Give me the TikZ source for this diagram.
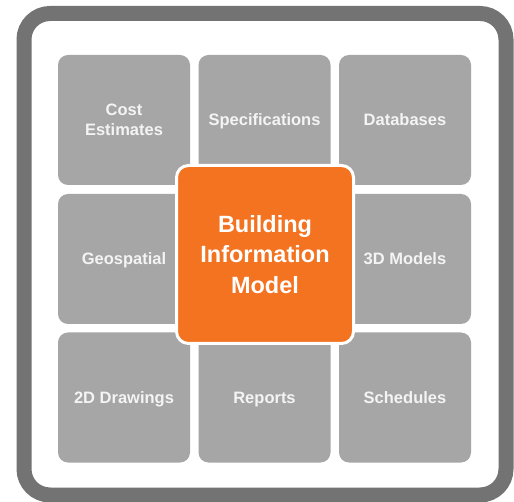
\documentclass[tikz,border=0pt]{standalone}
\usepackage{fontspec}
\setmainfont{Liberation Sans}
\definecolor{framegray}{HTML}{737373}
\definecolor{tilegray}{HTML}{A6A6A6}
\definecolor{tiletext}{HTML}{F4F4F4}
\definecolor{bimorange}{HTML}{F37321}
\begin{document}
\begin{tikzpicture}[x=1pt,y=-1pt,
  tile/.style={fill=tilegray, rounded corners=10pt, minimum width=132pt, minimum height=130pt,
    inner sep=0pt, text=tiletext, font=\bfseries\fontsize{16.5}{20}\selectfont, align=center},
  oneline/.style={text height=15.8pt, text depth=4pt},
  core/.style={fill=bimorange, draw=white, line width=3pt, rounded corners=12pt,
    minimum width=177pt, minimum height=178pt, inner sep=0pt, text=white,
    font=\bfseries\fontsize{23.5}{30.5}\selectfont, align=center}]
\useasboundingbox (0,0) rectangle (514,502);
\fill[white] (0,0) rectangle (514,502);
\draw[framegray, line width=15pt, rounded corners=26pt] (24,13.5) rectangle (506,495);
\node[tile] (cost) at (124,120) {Cost\\Estimates};
\node[tile, oneline] (spec) at (264.5,120) {Specifications};
\node[tile, oneline] (db) at (405,120) {Databases};
\node[tile, oneline] (geo) at (124,259) {Geospatial};
\node[tile, oneline] (models) at (405,259) {3D Models};
\node[tile, oneline] (draw) at (124,397.5) {2D Drawings};
\node[tile, oneline] (rep) at (264.5,397.5) {Reports};
\node[tile, oneline] (sched) at (405,397.5) {Schedules};
\node[core] (bim) at (265,254.5) {Building\\Information\\Model};
\end{tikzpicture}
\end{document}
